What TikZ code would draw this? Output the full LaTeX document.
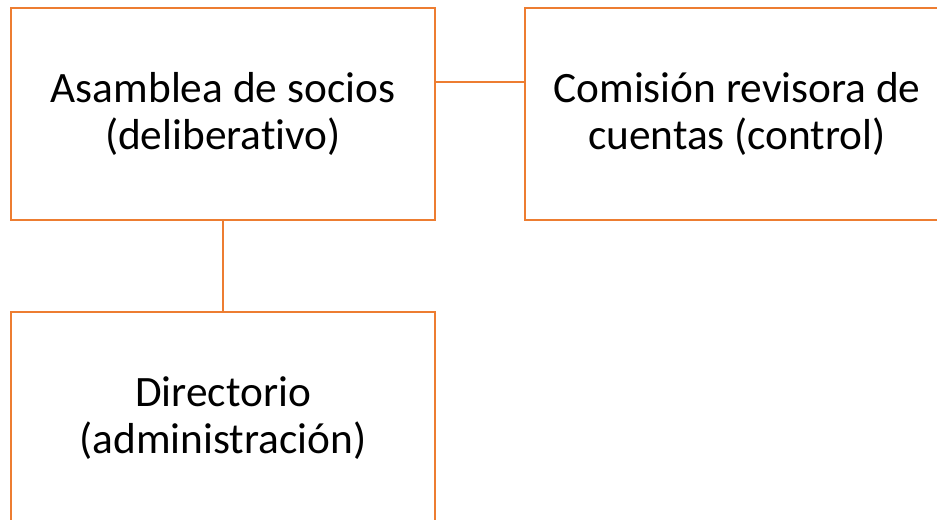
\documentclass[tikz,border=0pt]{standalone}
\usepackage{fontspec}
\setmainfont{Carlito}[Ligatures=NoCommon]
\usepackage{tikz}
\usetikzlibrary{positioning}
\definecolor{orgline}{HTML}{ED7D31}
\tikzset{
  organ/.style={draw=orgline,line width=1.5pt,minimum width=318pt,minimum height=159pt,
    align=center,font=\fontsize{32.5}{35}\selectfont,inner sep=0pt},
  link/.style={draw=orgline,line width=1pt}
}
\begin{document}
\begin{tikzpicture}[auto,node distance=66pt]
\useasboundingbox (0,0) rectangle (702.75pt,-389.25pt);
\clip (0,0) rectangle (702.75pt,-389.25pt);
\node[organ] (asamblea) at (167.25pt,-85.5pt) {Asamblea de socios\\(deliberativo)};
\node[organ] (comision) [right = of asamblea] {Comisión revisora de\\cuentas (control)};
\node[organ] (directorio) [below = 67.5pt of asamblea] {Directorio\\(administración)};
\path[link] ([yshift=24pt]asamblea.east) edge ([yshift=24pt]comision.west);
\path[link,line width=1.5pt] (asamblea) edge (directorio);
\end{tikzpicture}
\end{document}
